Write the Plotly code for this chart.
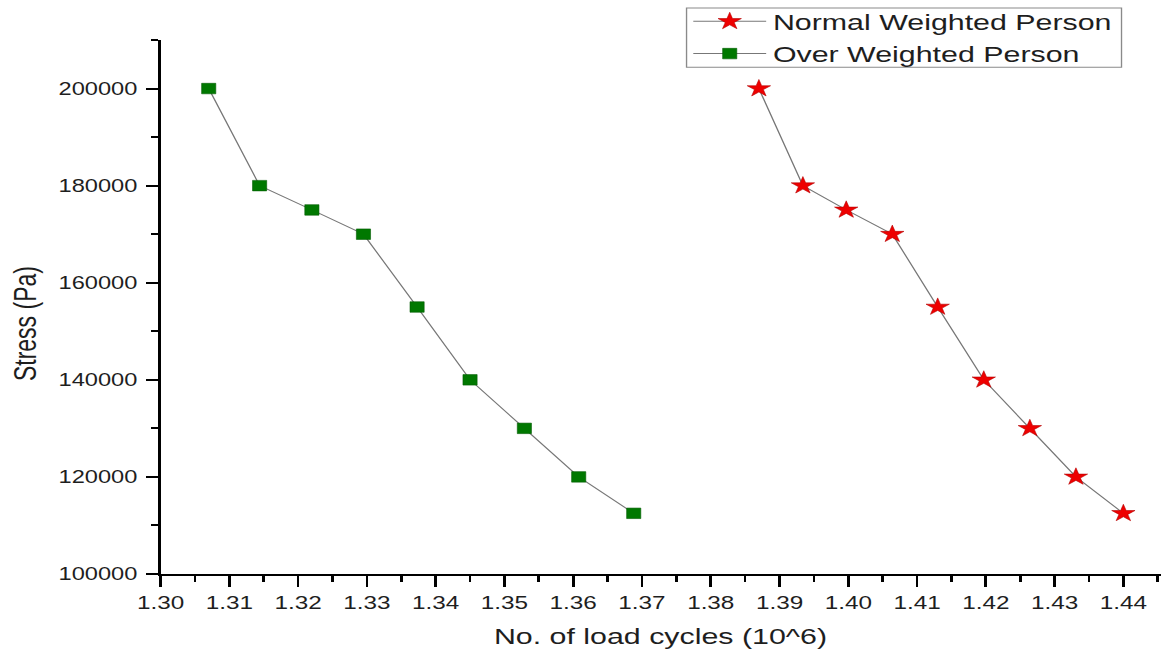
import plotly.graph_objects as go

stress = [200000, 180000, 175000, 170000, 155000, 140000, 130000, 120000, 112500]
cycles_normal = [1.3870, 1.3934, 1.3997, 1.4064, 1.4130, 1.4197, 1.4264, 1.4331, 1.4400]
cycles_over = [1.3070, 1.3144, 1.3220, 1.3295, 1.3373, 1.3450, 1.3529, 1.3608, 1.3688]

x_ticks = [1.30, 1.31, 1.32, 1.33, 1.34, 1.35, 1.36, 1.37, 1.38, 1.39, 1.40, 1.41, 1.42, 1.43, 1.44]
y_ticks = [100000, 120000, 140000, 160000, 180000, 200000]

FONT = "Liberation Sans, Arial, sans-serif"
TXT = "#1e1e1e"

# The reference picture is horizontally stretched; draw narrower and stretch the page horizontally.
VIEW_W = 1174
STRETCH = 1.35
W = round(VIEW_W / STRETCH)
S = VIEW_W / W

fig = go.Figure()
fig.add_trace(go.Scatter(
    x=cycles_normal, y=stress, mode="lines+markers", name="Normal Weighted Person",
    line=dict(color="#777777", width=1),
    marker=dict(symbol="star", size=13, color="#ee0000", line=dict(color="#b40000", width=0.5)),
))
fig.add_trace(go.Scatter(
    x=cycles_over, y=stress, mode="lines+markers", name="Over Weighted Person",
    line=dict(color="#777777", width=1),
    marker=dict(symbol="square", size=10.5, color="#007800", line=dict(color="#005a00", width=0.5)),
))

fig.update_xaxes(
    range=[1.30, 1.4454], tickvals=x_ticks, ticktext=[f"{v:.2f}" for v in x_ticks],
    showline=True, linecolor="black", linewidth=2, showgrid=False, zeroline=False,
    ticks="outside", ticklen=11, tickwidth=1.5, tickcolor="black",
    minor=dict(ticks="outside", ticklen=6, tickwidth=1.5, tickcolor="black", dtick=0.005, tick0=1.30),
    tickfont=dict(family=FONT, size=18, color=TXT),
    automargin=False,
)
fig.update_yaxes(
    range=[100000, 210000], tickvals=y_ticks, ticktext=[str(v) for v in y_ticks],
    showline=True, linecolor="black", linewidth=1.5, showgrid=False, zeroline=False,
    ticks="outside", ticklen=9, tickwidth=1.5, tickcolor="black",
    minor=dict(ticks="outside", ticklen=5, tickwidth=1.5, tickcolor="black", dtick=10000, tick0=100000),
    tickfont=dict(family=FONT, size=17.5, color=TXT),
    ticklabelstandoff=3,
    automargin=False,
)

fig.add_annotation(
    text="No. of load cycles (10^6)", xref="paper", yref="paper", x=0.5, y=0,
    xanchor="center", yanchor="middle", yshift=-62, showarrow=False,
    font=dict(family=FONT, size=22.5, color=TXT),
)
fig.add_annotation(
    text="Stress (Pa)", xref="paper", yref="paper", x=0, y=0.468, textangle=-90,
    xanchor="center", yanchor="middle", xshift=-100, showarrow=False,
    font=dict(family=FONT, size=23, color=TXT),
)

# legend frame
fig.add_shape(
    type="rect", xref="paper", yref="paper", x0=0.526, x1=0.961, y0=0.949, y1=1.060,
    line=dict(color="#8a8a8a", width=1), fillcolor="white", layer="above",
)

fig.update_layout(
    width=W, height=653,
    margin=dict(l=160 / S, r=14 / S, t=40, b=79, autoexpand=False),
    paper_bgcolor="white", plot_bgcolor="white",
    showlegend=True,
    legend=dict(
        x=0.526, y=1.0745, xanchor="left", yanchor="top",
        bgcolor="rgba(0,0,0,0)", borderwidth=0,
        font=dict(family=FONT, size=22.5, color=TXT),
        itemwidth=54, tracegroupgap=0,
    ),
)

post = (
    "var gd=document.getElementById('{plot_id}');"
    "gd.style.transformOrigin='0 0';"
    "gd.style.transform='scaleX(%.5f)';"
    "document.body.style.margin='0';document.body.style.overflow='hidden';" % S
)
fig.write_html("out.html", post_script=post)
